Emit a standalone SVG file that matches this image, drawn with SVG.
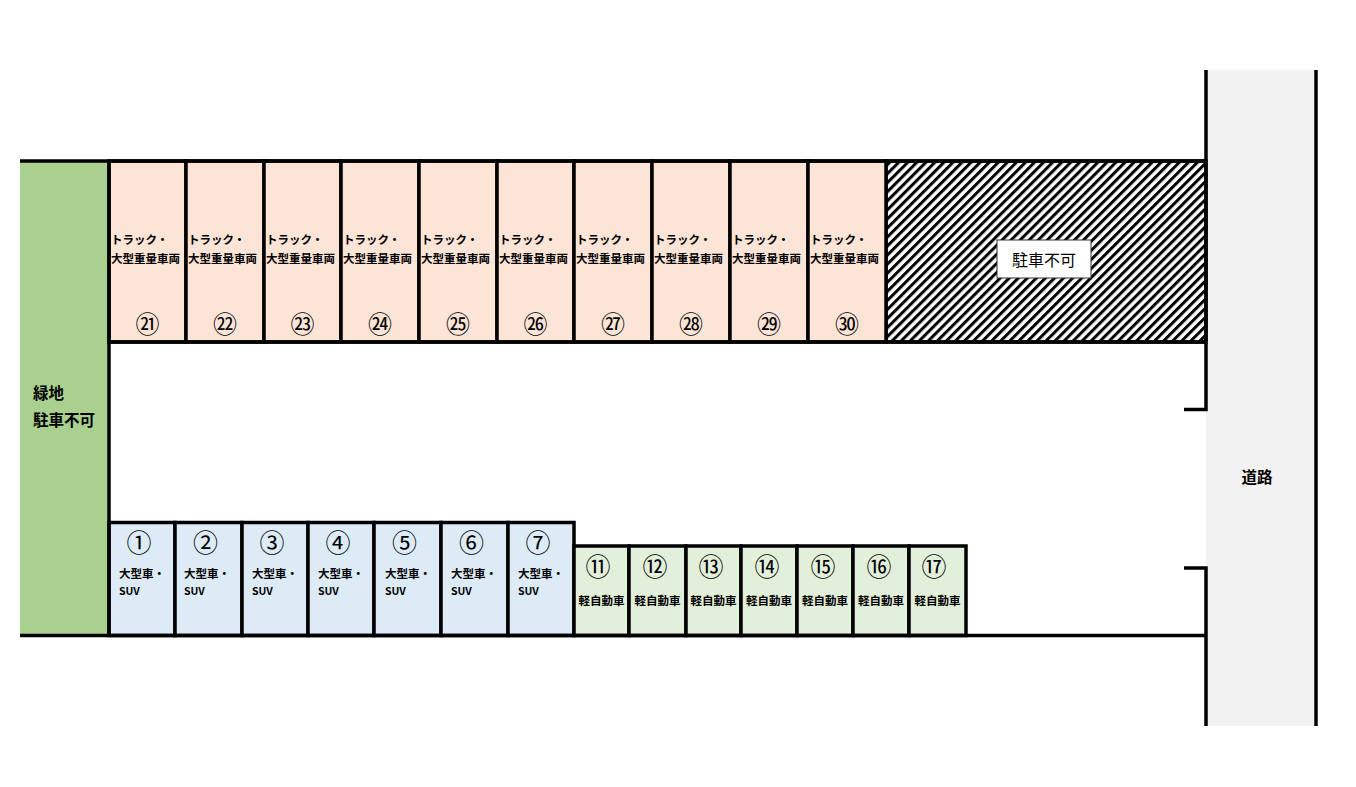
<svg xmlns="http://www.w3.org/2000/svg" width="1356" height="787" viewBox="0 0 1356 787">
<defs>
<pattern id="hatch" patternUnits="userSpaceOnUse" width="6.4" height="6.4" patternTransform="rotate(45)">
<rect x="0" y="0" width="6.4" height="6.4" fill="#fff"/>
<rect x="0" y="0" width="3" height="6.4" fill="#000"/>
</pattern>
</defs>
<style>
.ln{stroke:#000;stroke-width:3.5;fill:none}
.truck{fill:#fce4d6;stroke:#000;stroke-width:3.5}
.big{fill:#ddebf7;stroke:#000;stroke-width:3.5}
.kei{fill:#e2efda;stroke:#000;stroke-width:3.5}
text{font-family:"Noto Sans CJK JP","Noto Sans",sans-serif;fill:#000;dominant-baseline:central}
.t{font-size:11.5px;font-weight:bold}
.s{font-size:10.5px;font-weight:bold}
.n{font-size:24px;text-anchor:middle}
.nb{font-size:25px;text-anchor:middle}
.c{text-anchor:middle}
.lbl{font-size:15.5px;font-weight:bold}
</style>
<rect width="1356" height="787" fill="#fff"/>

<g id="road">
<rect x="1206" y="70" width="110" height="656" fill="#f2f2f2"/>
<text class="lbl c" x="1257" y="476">道路</text>
</g>

<g id="greenbelt">
<rect x="20" y="161" width="89" height="474" fill="#a9d08e"/>
<text class="lbl" x="33" y="392">緑地</text>
<text class="lbl" x="33" y="419">駐車不可</text>
</g>

<g id="no-parking">
<rect x="886" y="161" width="320" height="181" fill="url(#hatch)" stroke="#000" stroke-width="3.5"/>
<rect x="997" y="240" width="94" height="38" fill="#fff" stroke="#333" stroke-width="1"/>
<text x="1044" y="259" class="c" font-size="16">駐車不可</text>
</g>

<g id="s21"><rect class="truck" x="109" y="161" width="77" height="181"/><text class="t" x="111" y="239">トラック・</text><text class="t" x="111" y="258">大型重量車両</text><text class="n" x="147.5" y="322">㉑</text></g>
<g id="s22"><rect class="truck" x="186" y="161" width="78" height="181"/><text class="t" x="188" y="239">トラック・</text><text class="t" x="188" y="258">大型重量車両</text><text class="n" x="225" y="322">㉒</text></g>
<g id="s23"><rect class="truck" x="264" y="161" width="77" height="181"/><text class="t" x="266" y="239">トラック・</text><text class="t" x="266" y="258">大型重量車両</text><text class="n" x="302.5" y="322">㉓</text></g>
<g id="s24"><rect class="truck" x="341" y="161" width="78" height="181"/><text class="t" x="343" y="239">トラック・</text><text class="t" x="343" y="258">大型重量車両</text><text class="n" x="380" y="322">㉔</text></g>
<g id="s25"><rect class="truck" x="419" y="161" width="78" height="181"/><text class="t" x="421" y="239">トラック・</text><text class="t" x="421" y="258">大型重量車両</text><text class="n" x="458" y="322">㉕</text></g>
<g id="s26"><rect class="truck" x="497" y="161" width="77" height="181"/><text class="t" x="499" y="239">トラック・</text><text class="t" x="499" y="258">大型重量車両</text><text class="n" x="535.5" y="322">㉖</text></g>
<g id="s27"><rect class="truck" x="574" y="161" width="78" height="181"/><text class="t" x="576" y="239">トラック・</text><text class="t" x="576" y="258">大型重量車両</text><text class="n" x="613" y="322">㉗</text></g>
<g id="s28"><rect class="truck" x="652" y="161" width="78" height="181"/><text class="t" x="654" y="239">トラック・</text><text class="t" x="654" y="258">大型重量車両</text><text class="n" x="691" y="322">㉘</text></g>
<g id="s29"><rect class="truck" x="730" y="161" width="78" height="181"/><text class="t" x="732" y="239">トラック・</text><text class="t" x="732" y="258">大型重量車両</text><text class="n" x="769" y="322">㉙</text></g>
<g id="s30"><rect class="truck" x="808" y="161" width="78" height="181"/><text class="t" x="810" y="239">トラック・</text><text class="t" x="810" y="258">大型重量車両</text><text class="n" x="847" y="322">㉚</text></g>

<g id="s1"><rect class="big" x="109" y="522.5" width="66" height="113"/><text class="nb" x="139" y="541">①</text><text class="t" x="119" y="573">大型車・</text><text class="s" x="119" y="590">SUV</text></g>
<g id="s2"><rect class="big" x="175" y="522.5" width="67" height="113"/><text class="nb" x="205.5" y="541">②</text><text class="t" x="184" y="573">大型車・</text><text class="s" x="184" y="590">SUV</text></g>
<g id="s3"><rect class="big" x="242" y="522.5" width="66" height="113"/><text class="nb" x="272" y="541">③</text><text class="t" x="252" y="573">大型車・</text><text class="s" x="252" y="590">SUV</text></g>
<g id="s4"><rect class="big" x="308" y="522.5" width="66" height="113"/><text class="nb" x="338" y="541">④</text><text class="t" x="318" y="573">大型車・</text><text class="s" x="318" y="590">SUV</text></g>
<g id="s5"><rect class="big" x="374" y="522.5" width="67" height="113"/><text class="nb" x="404.5" y="541">⑤</text><text class="t" x="385" y="573">大型車・</text><text class="s" x="385" y="590">SUV</text></g>
<g id="s6"><rect class="big" x="441" y="522.5" width="67" height="113"/><text class="nb" x="471.5" y="541">⑥</text><text class="t" x="451" y="573">大型車・</text><text class="s" x="451" y="590">SUV</text></g>
<g id="s7"><rect class="big" x="508" y="522.5" width="66" height="113"/><text class="nb" x="538" y="541">⑦</text><text class="t" x="518" y="573">大型車・</text><text class="s" x="518" y="590">SUV</text></g>

<g id="s11"><rect class="kei" x="574" y="546" width="55" height="89.5"/><text class="nb" x="598" y="565">⑪</text><text class="t c" x="601.5" y="600" font-size="11.8">軽自動車</text></g>
<g id="s12"><rect class="kei" x="629" y="546" width="57" height="89.5"/><text class="nb" x="655" y="565">⑫</text><text class="t c" x="657.5" y="600" font-size="11.8">軽自動車</text></g>
<g id="s13"><rect class="kei" x="686" y="546" width="55" height="89.5"/><text class="nb" x="711" y="565">⑬</text><text class="t c" x="713.5" y="600" font-size="11.8">軽自動車</text></g>
<g id="s14"><rect class="kei" x="741" y="546" width="56" height="89.5"/><text class="nb" x="767" y="565">⑭</text><text class="t c" x="769" y="600" font-size="11.8">軽自動車</text></g>
<g id="s15"><rect class="kei" x="797" y="546" width="56" height="89.5"/><text class="nb" x="823" y="565">⑮</text><text class="t c" x="825" y="600" font-size="11.8">軽自動車</text></g>
<g id="s16"><rect class="kei" x="853" y="546" width="56" height="89.5"/><text class="nb" x="879" y="565">⑯</text><text class="t c" x="881" y="600" font-size="11.8">軽自動車</text></g>
<g id="s17"><rect class="kei" x="909" y="546" width="57" height="89.5"/><text class="nb" x="934" y="565">⑰</text><text class="t c" x="937.5" y="600" font-size="11.8">軽自動車</text></g>

<g id="connectors">
<line class="ln" x1="20" y1="161" x2="1206" y2="161"/>
<line class="ln" x1="20" y1="635.5" x2="1206" y2="635.5"/>
<line class="ln" x1="109" y1="161" x2="109" y2="635.5"/>
<line class="ln" x1="109" y1="342" x2="1206" y2="342"/>
<polyline class="ln" points="1206,70 1206,409.5 1184,409.5"/>
<polyline class="ln" points="1184,568 1206,568 1206,726"/>
<line class="ln" x1="1316" y1="70" x2="1316" y2="726"/>
</g>
</svg>
